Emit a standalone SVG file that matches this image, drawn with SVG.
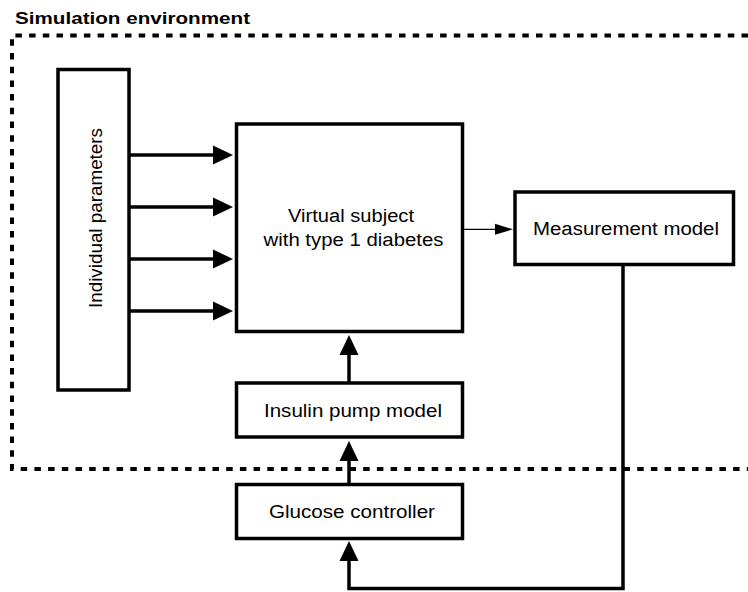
<svg xmlns="http://www.w3.org/2000/svg" width="748" height="592" viewBox="0 0 748 592">
<style>
.box{fill:#fff;stroke:#000;stroke-width:3.5}
.lbl{font-family:"Liberation Sans",Arial,sans-serif;font-size:18px;fill:#000}
.title{font-family:"Liberation Sans",Arial,sans-serif;font-size:16.5px;font-weight:bold;fill:#000}
.thick{fill:none;stroke:#000;stroke-width:3.5}
.thin{fill:none;stroke:#000;stroke-width:1.3}
.border{fill:none;stroke:#000;stroke-width:4;stroke-dasharray:6.5 7.2}
</style>
<defs>
<marker id="ah" markerUnits="userSpaceOnUse" markerWidth="20" markerHeight="19" refX="0" refY="9.5" orient="auto" overflow="visible">
<path d="M0,0 L20,9.5 L0,19 z" fill="#000"/>
</marker>
<marker id="ahs" markerUnits="userSpaceOnUse" markerWidth="18" markerHeight="11" refX="0" refY="5.5" orient="auto" overflow="visible">
<path d="M0,0 L18,5.5 L0,11 z" fill="#000"/>
</marker>
</defs>
<text class="title" x="15" y="24" textLength="235" lengthAdjust="spacingAndGlyphs">Simulation environment</text>
<path class="border" d="M748,35.5 H12 V469 H748"/>
<g id="connectors">
<path class="thick" d="M129,155 H213" marker-end="url(#ah)"/>
<path class="thick" d="M129,207 H213" marker-end="url(#ah)"/>
<path class="thick" d="M129,259 H213" marker-end="url(#ah)"/>
<path class="thick" d="M129,311 H213" marker-end="url(#ah)"/>
<path class="thin" d="M462.5,229.3 H495" marker-end="url(#ahs)"/>
<path class="thick" d="M349,383 V355" marker-end="url(#ah)"/>
<path class="thick" d="M349,484.5 V461" marker-end="url(#ah)"/>
<path class="thick" d="M623,265 V588.5 H349 V561" marker-end="url(#ah)"/>
</g>
<g id="individual-parameters">
<rect class="box" x="58" y="69.5" width="71" height="320.5"/>
<text class="lbl" transform="translate(101.5,308) rotate(-90)" x="0" y="0" textLength="180" lengthAdjust="spacingAndGlyphs">Individual parameters</text>
</g>
<g id="virtual-subject">
<rect class="box" x="236.5" y="124" width="226" height="207.5"/>
<text class="lbl" x="288" y="222" textLength="126" lengthAdjust="spacingAndGlyphs">Virtual subject</text>
<text class="lbl" x="263.5" y="245.5" textLength="180" lengthAdjust="spacingAndGlyphs">with type 1 diabetes</text>
</g>
<g id="measurement-model">
<rect class="box" x="515" y="192" width="218.5" height="72.5"/>
<text class="lbl" x="533" y="235" textLength="186" lengthAdjust="spacingAndGlyphs">Measurement model</text>
</g>
<g id="insulin-pump-model">
<rect class="box" x="236.5" y="383" width="226" height="54"/>
<text class="lbl" x="264" y="417" textLength="178" lengthAdjust="spacingAndGlyphs">Insulin pump model</text>
</g>
<g id="glucose-controller">
<rect class="box" x="236.5" y="484.5" width="226" height="54"/>
<text class="lbl" x="269" y="518" textLength="166" lengthAdjust="spacingAndGlyphs">Glucose controller</text>
</g>
</svg>
